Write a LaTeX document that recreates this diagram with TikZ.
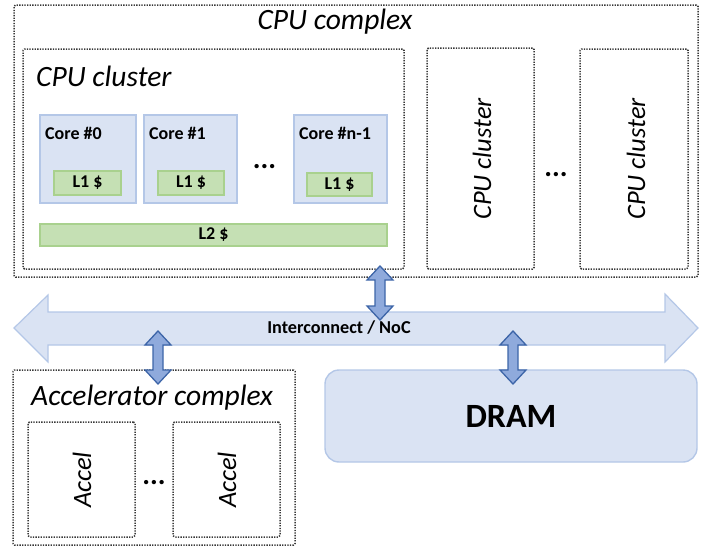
\documentclass[tikz,border=0pt]{standalone}
\usepackage{fontspec}
\setmainfont{Carlito}
\definecolor{paleblue}{HTML}{DAE3F3}
\definecolor{paleblueline}{HTML}{B4C7E7}
\definecolor{palegreen}{HTML}{C5E0B4}
\definecolor{palegreenline}{HTML}{A9D18E}
\definecolor{linkfill}{HTML}{8FAADC}
\definecolor{linkline}{HTML}{3D65A8}
\definecolor{dotline}{HTML}{383838}
\begin{document}
\begin{tikzpicture}[x=1pt,y=-1pt,
  group/.style={draw=dotline, line width=1.5pt, dash pattern=on 1.3pt off 1.3pt,
    rounded corners=1.5pt, inner sep=0pt},
  corebox/.style={draw=paleblueline, fill=paleblue, line width=1.4pt, inner sep=0pt},
  cachebox/.style={draw=palegreenline, fill=palegreen, line width=1.4pt, inner sep=0pt,
    font=\fontsize{18}{20}\selectfont\bfseries},
  grouptitle/.style={font=\fontsize{29.5}{33}\selectfont\itshape, inner sep=0pt},
  coretitle/.style={font=\fontsize{18}{20}\selectfont\bfseries, inner sep=0pt, anchor=west},
  vtitle/.style={font=\fontsize{26.5}{30}\selectfont\itshape, rotate=90, inner sep=0pt},
  dots/.style={font=\fontsize{29}{30}\selectfont\bfseries, inner sep=0pt},
  bus/.style={draw=paleblueline, fill=paleblue, line width=1.2pt},
  link/.style={draw=linkline, fill=linkfill, line width=1.3pt, line join=miter},
]
\useasboundingbox (0,0) rectangle (702,546);

% vertical two-headed block arrow: centre x, top y, bottom y
\newcommand\linkarrow[3]{%
  \draw[link] (#1,#2) -- ++(13,14) -- ++(-8,0) -- (#1+5,#3-14) -- ++(8,0)
    -- (#1,#3) -- ++(-13,-14) -- ++(8,0) -- (#1-5,#2+14) -- ++(-8,0) -- cycle;}

% CPU complex
\node[group, minimum width=684pt, minimum height=272pt] (cpucx) at (356,141) {};
\node[grouptitle] (cpucxt) at (335,22) {CPU complex};

% first CPU cluster with its cores
\node[group, minimum width=381pt, minimum height=220pt] (cl0) at (213.5,159) {};
\node[grouptitle, anchor=west] (cl0t) at (36,76) {CPU cluster};

\node[corebox, minimum width=96pt, minimum height=88pt] (c0) at (88,159) {};
\node[corebox, minimum width=93pt, minimum height=88pt] (c1) at (190.5,159) {};
\node[corebox, minimum width=93pt, minimum height=88pt] (cn) at (340.5,159) {};
\node[coretitle] (c0t) at (45,133) {Core \#0};
\node[coretitle] (c1t) at (149,133) {Core \#1};
\node[coretitle] (cnt) at (299,133) {Core \#n-1};
\node[dots] (cdots) at (264.5,167) {...};

\node[cachebox, minimum width=67pt, minimum height=24pt] (l10) at (87.5,183) {L1 \$};
\node[cachebox, minimum width=66pt, minimum height=24pt] (l11) at (191,183) {L1 \$};
\node[cachebox, minimum width=65pt, minimum height=23pt] (l1n) at (339.5,184.5) {L1 \$};
\node[cachebox, minimum width=347pt, minimum height=22pt] (l2) at (213.5,235) {L2 \$};

% further CPU clusters
\node[group, minimum width=107pt, minimum height=221pt] (cl1) at (480.5,158.5) {};
\node[vtitle] (cl1t) at (482,159) {CPU cluster};
\node[dots] (cldots) at (556,175) {...};
\node[group, minimum width=108pt, minimum height=220pt] (cl2) at (634,159) {};
\node[vtitle] (cl2t) at (636,159) {CPU cluster};

% interconnect
\draw[bus] (14,328) -- (48,295) -- (48,312) -- (665,312) -- (665,294) -- (698,328)
  -- (665,362) -- (665,345) -- (48,345) -- (48,362) -- cycle;
\node[font=\fontsize{18.2}{20}\selectfont\bfseries, inner sep=0pt] (noc) at (339,328) {Interconnect / NoC};

% DRAM
\node[draw=paleblueline, fill=paleblue, line width=1.4pt, rounded corners=14pt,
  minimum width=372pt, minimum height=92pt, inner sep=0pt,
  font=\fontsize{34}{38}\selectfont\bfseries] (dram) at (511,416) {DRAM};

% accelerator complex
\node[group, minimum width=282pt, minimum height=175pt] (acx) at (154,457.5) {};
\node[grouptitle] (acxt) at (152,398) {Accelerator complex};
\node[group, minimum width=107pt, minimum height=115pt] (a0) at (81.5,479.5) {};
\node[vtitle] (a0t) at (82,480) {Accel};
\node[dots] (adots) at (154,483) {...};
\node[group, minimum width=107pt, minimum height=115pt] (a1) at (226.5,479.5) {};
\node[vtitle] (a1t) at (227,480) {Accel};

% links to the interconnect
\linkarrow{380}{266}{320}
\linkarrow{513}{331}{384}
\linkarrow{158}{331}{384}
\end{tikzpicture}
\end{document}
